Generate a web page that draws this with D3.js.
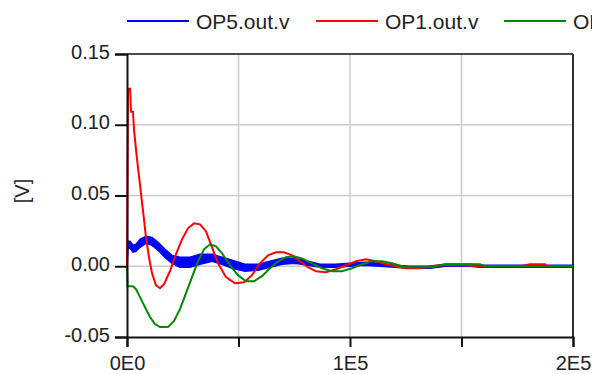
<!DOCTYPE html>
<html>
<head>
<meta charset="utf-8">
<script src="https://cdn.jsdelivr.net/npm/d3@7"></script>
<style>
  body { margin: 0; background: #fff; }
  svg text { font-family: "Liberation Sans", Arial, sans-serif; fill: #222; }
</style>
</head>
<body>
<div id="chart"></div>
<script>
// Series names for the legend
var seriesNames = ["OP5.out.v", "OP1.out.v", "OP3.out.v"];
var seriesColors = ["#0000ff", "#ff0000", "#008800"];

// Tick values
var yTicks = [-0.05, 0.00, 0.05, 0.10, 0.15];
var yTickLabels = ["-0.05", "0.00", "0.05", "0.10", "0.15"];
var xTicks = [0, 50000, 100000, 150000, 200000];
var xTickLabels = ["0E0", "", "1E5", "", "2E5"];

// OP5 is a fast ripple, kept as [time, low, high] envelope
var op5 = [
  [0, 0, 0], [450, 0.0127, 0.0176], [1350, 0.0127, 0.0176], [2690, 0.0099, 0.0148],
  [4040, 0.0106, 0.0155], [5830, 0.0134, 0.0190], [8520, 0.0162, 0.0211],
  [11210, 0.0148, 0.0204], [13900, 0.0113, 0.0169], [17040, 0.0063, 0.0120],
  [20180, 0.0021, 0.0077], [23770, -0.0007, 0.0063], [28250, -0.0007, 0.0063],
  [32740, 0.0014, 0.0085], [38120, 0.0035, 0.0085], [42600, 0.0014, 0.0063],
  [47090, -0.0014, 0.0042], [52920, -0.0035, 0.0014], [58740, -0.0028, 0.0014],
  [64130, -0.0007, 0.0035], [69510, 0.0014, 0.0056], [75340, 0.0021, 0.0056],
  [81170, 0.0007, 0.0035], [86550, -0.0007, 0.0014], [93270, -0.0007, 0.0014],
  [100000, 0, 0.0021], [106730, 0.0007, 0.0028], [113450, 0, 0.0021],
  [120180, -0.0007, 0.0007], [126910, -0.0014, 0], [135870, -0.0014, 0],
  [142600, 0, 0.0014], [153810, 0, 0.0014], [158300, -0.0007, 0.0007],
  [200000, -0.0007, 0.0007]
];

// OP1 [time, volts]
var op1 = [
  [0, 0], [450, 0.1254], [1350, 0.1254], [1800, 0.1092], [2700, 0.1092],
  [3140, 0.0965], [4040, 0.0824], [4930, 0.0697], [5830, 0.0577], [6730, 0.0451],
  [7620, 0.0331], [8520, 0.0204], [9870, 0.0063], [11210, -0.0049], [13000, -0.0134],
  [14800, -0.0155], [16590, -0.0127], [19280, -0.0035], [21970, 0.0085], [24660, 0.0190],
  [27350, 0.0268], [30040, 0.0303], [32740, 0.0296], [35430, 0.0246], [38120, 0.0134],
  [40810, 0.0021], [44390, -0.0077], [48430, -0.0120], [52470, -0.0113], [56050, -0.0063],
  [59640, 0.0021], [63230, 0.0077], [66810, 0.0099], [70400, 0.0099], [73990, 0.0077],
  [77580, 0.0035], [81160, -0.0007], [84750, -0.0035], [89240, -0.0042], [93720, -0.0021],
  [98210, 0.0007], [102690, 0.0035], [107170, 0.0049], [111660, 0.0035], [116140, 0.0014],
  [120630, 0.0000], [125110, -0.0014], [131390, -0.0014], [135870, 0.0000], [140360, 0.0007],
  [151570, 0.0007], [158300, 0], [176230, 0], [180710, 0.0014], [187440, 0.0014],
  [188790, 0], [200000, 0]
];

// OP3 [time, volts]
var op3 = [
  [0, 0], [220, -0.0141], [2700, -0.0141], [4040, -0.0162], [5830, -0.0218],
  [8070, -0.0289], [10310, -0.0359], [12560, -0.0408], [14800, -0.0430], [18390, -0.0430],
  [21080, -0.0387], [23770, -0.0303], [26460, -0.0190], [29150, -0.0077], [31840, 0.0035],
  [34530, 0.0120], [37220, 0.0155], [39910, 0.0141], [42600, 0.0092], [46190, 0.0007],
  [49780, -0.0063], [53360, -0.0106], [56950, -0.0106], [60540, -0.0070], [64130, -0.0014],
  [67710, 0.0035], [71300, 0.0063], [74890, 0.0070], [78480, 0.0056], [82960, 0.0021],
  [87440, -0.0014], [91930, -0.0035], [96410, -0.0035], [100900, -0.0014], [105380, 0.0014],
  [109860, 0.0035], [114350, 0.0035], [118830, 0.0021], [123310, 0], [126900, -0.0007],
  [135870, -0.0007], [138560, 0], [142600, 0.0014], [158300, 0.0014], [160540, 0],
  [200000, 0]
];

var svgWidth = 592;
var svgHeight = 374;

// plot box edges
var margin = { top: 54, right: 19, bottom: 37, left: 127 };
var chartWidth = svgWidth - margin.left - margin.right;
var chartHeight = svgHeight - margin.top - margin.bottom;

var svg = d3.select("#chart")
  .append("svg")
  .attr("width", svgWidth)
  .attr("height", svgHeight);

var chartGroup = svg.append("g")
  .attr("transform", `translate(${margin.left}, ${margin.top})`);

var xScale = d3.scaleLinear()
  .domain([0, 200000])
  .range([0, chartWidth]);

var yScale = d3.scaleLinear()
  .domain([-0.05, 0.15])
  .range([chartHeight, 0]);

// grid lines
chartGroup.append("g")
  .selectAll("line")
  .data(xTicks.slice(1, -1))
  .enter()
  .append("line")
  .attr("x1", d => xScale(d)).attr("x2", d => xScale(d))
  .attr("y1", 0).attr("y2", chartHeight)
  .attr("stroke", "#cccccc")
  .attr("stroke-width", 1.5);

chartGroup.append("g")
  .selectAll("line")
  .data(yTicks.slice(1, -1))
  .enter()
  .append("line")
  .attr("x1", 0).attr("x2", chartWidth)
  .attr("y1", d => yScale(d)).attr("y2", d => yScale(d))
  .attr("stroke", "#cccccc")
  .attr("stroke-width", 1.5);

// box top and right
chartGroup.append("line")
  .attr("x1", 0).attr("x2", chartWidth).attr("y1", 0).attr("y2", 0)
  .attr("stroke", "#111").attr("stroke-width", 1.5);
chartGroup.append("line")
  .attr("x1", chartWidth).attr("x2", chartWidth).attr("y1", 0).attr("y2", chartHeight)
  .attr("stroke", "#333").attr("stroke-width", 2);

// series
var band = d3.area()
  .x(d => xScale(d[0]))
  .y0(d => yScale(d[1]))
  .y1(d => yScale(d[2]));

chartGroup.append("path")
  .datum(op5)
  .attr("d", band)
  .attr("fill", seriesColors[0])
  .attr("stroke", seriesColors[0])
  .attr("stroke-width", 1.5);

var line = d3.line()
  .x(d => xScale(d[0]))
  .y(d => yScale(d[1]));

chartGroup.append("path")
  .datum(op1)
  .attr("d", line)
  .attr("fill", "none")
  .attr("stroke", seriesColors[1])
  .attr("stroke-width", 2);

chartGroup.append("path")
  .datum(op3)
  .attr("d", line)
  .attr("fill", "none")
  .attr("stroke", seriesColors[2])
  .attr("stroke-width", 2);

// axes
var leftAxis = d3.axisLeft(yScale)
  .tickValues(yTicks)
  .tickFormat((d, i) => yTickLabels[i])
  .tickSize(12)
  .tickPadding(5);

var bottomAxis = d3.axisBottom(xScale)
  .tickValues(xTicks)
  .tickFormat((d, i) => xTickLabels[i])
  .tickSize(10)
  .tickPadding(9);

var yAxisG = chartGroup.append("g").call(leftAxis);
var xAxisG = chartGroup.append("g")
  .attr("transform", `translate(0, ${chartHeight})`)
  .call(bottomAxis);

[yAxisG, xAxisG].forEach(function(g) {
  g.select(".domain").attr("stroke", "#111").attr("stroke-width", 2);
  g.selectAll(".tick line").attr("stroke", "#111").attr("stroke-width", 2);
  g.selectAll(".tick text")
    .attr("fill", "#222")
    .style("font-size", "20px")
    .style("font-family", "Liberation Sans, Arial, sans-serif");
});
yAxisG.selectAll(".tick text").attr("dy", "0.2em");

// axis label
svg.append("text")
  .attr("transform", "translate(29, 191) rotate(-90)")
  .style("text-anchor", "middle")
  .style("font-size", "20px")
  .text("[V]");

// legend
var legendX = [127, 316, 504];
var legend = svg.append("g")
  .selectAll("g")
  .data(seriesNames)
  .enter()
  .append("g")
  .attr("transform", (d, i) => `translate(${legendX[i]}, 21)`);

legend.append("line")
  .attr("x1", 0).attr("x2", 62)
  .attr("y1", 0).attr("y2", 0)
  .attr("stroke", (d, i) => seriesColors[i])
  .attr("stroke-width", 2);

legend.append("text")
  .attr("x", 69)
  .attr("y", 8)
  .style("font-size", "21px")
  .text(d => d);
</script>
</body>
</html>
